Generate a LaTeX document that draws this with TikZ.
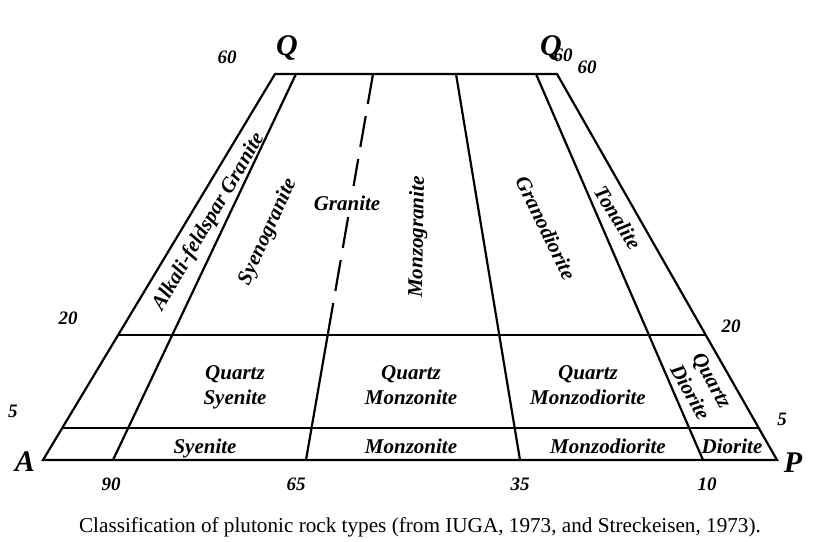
\documentclass[tikz,border=0pt]{standalone}
\usepackage{fontspec}
\setmainfont{Liberation Serif}
\usetikzlibrary{calc}
\begin{document}
\begin{tikzpicture}[x=1pt,y=-1pt,
  edge/.style={line width=2.2pt, line join=miter},
  lbl/.style={font=\fontsize{21}{25}\selectfont\bfseries\itshape, inner sep=0pt, align=center,
    execute at begin node=\strut, execute at end node=\strut},
  num/.style={font=\fontsize{19}{22}\selectfont\bfseries\itshape, inner sep=0pt},
  big/.style={font=\fontsize{30}{32}\selectfont\bfseries\itshape, inner sep=0pt},
  captext/.style={font=\fontsize{21.2}{24}\selectfont, inner sep=0pt}]
\useasboundingbox (0,0) rectangle (832,541);
% corners
\coordinate (A) at (43,460);
\coordinate (P) at (777,460);
\coordinate (QR) at (557,74);
\coordinate (QL) at (275,74);
% outline
\draw[edge] (A) -- (P) -- (QR) -- (QL) -- cycle;
% horizontal lines at 20 and 5
\coordinate (L20) at ($(A)!{125/386}!(QL)$);
\coordinate (R20) at ($(P)!{125/386}!(QR)$);
\coordinate (L5) at ($(A)!{32/386}!(QL)$);
\coordinate (R5) at ($(P)!{32/386}!(QR)$);
\draw[edge] (L20) -- (R20);
\draw[edge] (L5) -- (R5);
% inner lines
\coordinate (T90) at (296,74); \coordinate (B90) at (113,460);
\coordinate (T65) at (373,74); \coordinate (M65) at ($(T65)!{261/386}!(306,460)$); \coordinate (B65) at (306,460);
\coordinate (T35) at (456,74); \coordinate (B35) at (520,460);
\coordinate (T10) at (536,74); \coordinate (B10) at (703,460);
\draw[edge] (T90) -- (B90);
\draw[edge] (M65) -- (B65);
\draw[edge] (T35) -- (B35);
\draw[edge] (T10) -- (B10);
\foreach \ya/\yb in {74/104, 116/147, 159/186, 217/248, 260/291, 303/336}
  \draw[edge] ({373-(\ya-74)/386*67},\ya) -- ({373-(\yb-74)/386*67},\yb);
% corner and scale labels
\node[big] (qleft) at (287,48) {Q};
\node[num] (n60l) at (227,57) {60};
\node[num] (n60m) at (563,55) {60};
\node[big] (qright) at (551,48) {Q};
\node[num] (n60r) at (587,67) {60};
\node[num] (n20l) at (68,318) {20};
\node[num] (n20r) at (731,326) {20};
\node[num] (n5l) at (13,411) {5};
\node[num] (n5r) at (782,419) {5};
\node[big] (la) at (25,462) {A};
\node[big] (lp) at (793,463) {P};
\node[num] (n90) at (111,484) {90};
\node[num] (n65) at (296,484) {65};
\node[num] (n35) at (520,484) {35};
\node[num] (n10) at (707,484) {10};
% field labels
\node[lbl, rotate=59.5] (afg) at (209,222) {Alkali-feldspar Granite};
\node[lbl, rotate=65.5] (syg) at (268,232) {Syenogranite};
\node[lbl] (gra) at (347,205) {Granite};
\node[lbl, rotate=89] (mzg) at (418,237) {Monzogranite};
\node[lbl, rotate=-64] (grd) at (544,229) {Granodiorite};
\node[lbl, rotate=-58] (ton) at (616,219) {Tonalite};
\node[lbl] (qsy) at (235,388.5) {Quartz\\Syenite};
\node[lbl] (qmz) at (411,388.5) {Quartz\\Monzonite};
\node[lbl] (qmd) at (588,388.5) {Quartz\\Monzodiorite};
\node[lbl, rotate=-61] (qdi) at (698,388) {Quartz\\Diorite};
\node[lbl] (sye) at (205,448) {Syenite};
\node[lbl] (mzn) at (411,448) {Monzonite};
\node[lbl] (mzd) at (608,448) {Monzodiorite};
\node[lbl] (dio) at (732,448) {Diorite};
% caption
\node[captext] (caption) at (420,527) {Classification of plutonic rock types (from IUGA, 1973, and Streckeisen, 1973).};
\end{tikzpicture}
\end{document}
